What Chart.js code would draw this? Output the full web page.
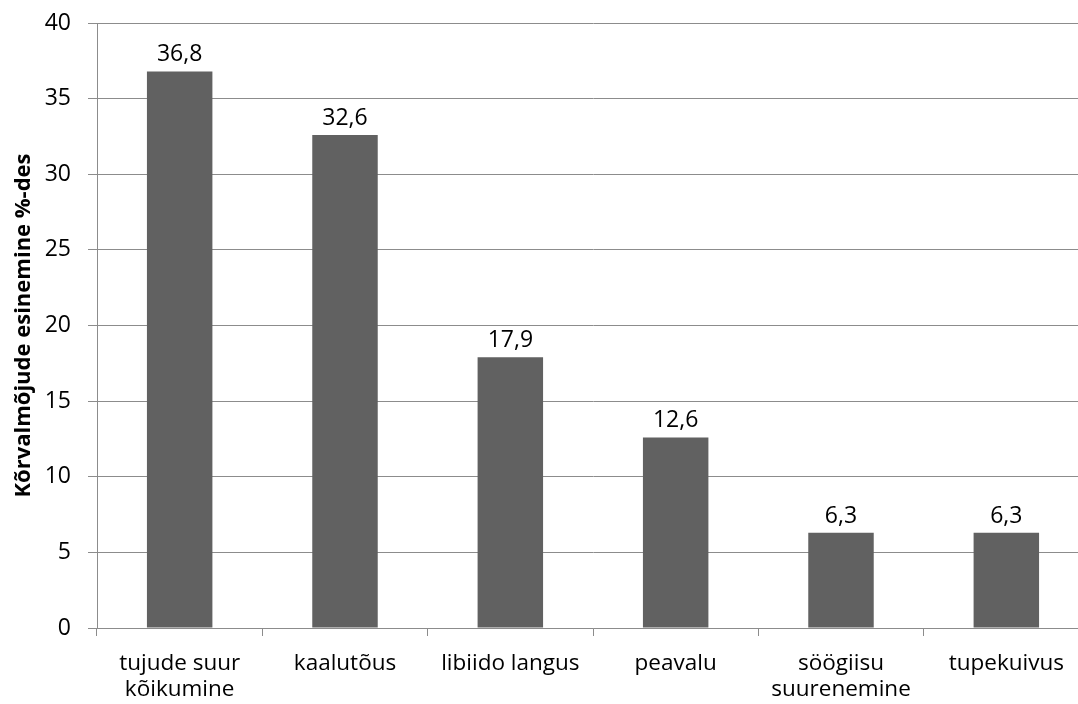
<!DOCTYPE html>
<html>
<head>
<meta charset="utf-8">
<script src="https://cdn.jsdelivr.net/npm/chart.js@4.4.1/dist/chart.umd.min.js"></script>
<style>
  html, body { margin: 0; padding: 0; background: #ffffff; overflow: hidden; }
  #wrap { width: 1078px; height: 704px; overflow: hidden; }
  canvas { display: block; }
</style>
</head>
<body>
<div id="wrap"><canvas id="chart" width="1089" height="704"></canvas></div>
<script>
// Side effects and how often they occurred (% of respondents)
const categories = [
  ['tujude suur', 'kõikumine'],
  'kaalutõus',
  'libiido langus',
  'peavalu',
  ['söögiisu', 'suurenemine'],
  'tupekuivus'
];
const values = [36.8, 32.6, 17.9, 12.6, 6.3, 6.3];
const yTicks = [0, 5, 10, 15, 20, 25, 30, 35, 40];
const yTitle = 'Kõrvalmõjude esinemine %-des';

const FONT = '"Open Sans", Lato, sans-serif';
const GRID = '#8c8c8c';

// value labels above each bar, Estonian decimal comma
const valueLabels = {
  id: 'valueLabels',
  afterDatasetsDraw(chart) {
    const ctx = chart.ctx;
    const meta = chart.getDatasetMeta(0);
    ctx.save();
    ctx.font = '23px ' + FONT;
    ctx.fillStyle = '#000000';
    ctx.textAlign = 'center';
    ctx.textBaseline = 'alphabetic';
    meta.data.forEach((bar, i) => {
      const txt = values[i].toFixed(1).replace('.', ',');
      ctx.fillText(txt, bar.x, bar.y - 10);
    });
    ctx.restore();
  }
};

const whiteBg = {
  id: 'whiteBg',
  beforeDraw(chart) {
    const ctx = chart.ctx;
    ctx.save();
    ctx.fillStyle = '#ffffff';
    ctx.fillRect(0, 0, chart.width, chart.height);
    ctx.restore();
  }
};

new Chart(document.getElementById('chart'), {
  type: 'bar',
  data: {
    labels: categories,
    datasets: [{
      data: values,
      backgroundColor: '#616161',
      borderWidth: 0,
      categoryPercentage: 1,
      barPercentage: 0.396
    }]
  },
  options: {
    responsive: false,
    animation: false,
    layout: { padding: { top: 23, left: 0, right: 0, bottom: 0 } },
    plugins: {
      legend: { display: false },
      tooltip: { enabled: false }
    },
    scales: {
      x: {
        offset: true,
        grid: {
          offset: true,
          drawOnChartArea: false,
          drawTicks: true,
          tickLength: 8,
          color: GRID,
          lineWidth: 1
        },
        border: { display: true, color: GRID, width: 1 },
        ticks: {
          autoSkip: false,
          maxRotation: 0,
          minRotation: 0,
          color: '#000000',
          padding: 15,
          font: { family: FONT, size: 22.5, lineHeight: 1.14 }
        },
        afterFit(scale) {
          scale.height = 76;
          scale.paddingLeft = 0;
          scale.paddingRight = 0;
        }
      },
      y: {
        min: 0,
        max: 40,
        afterBuildTicks(scale) { scale.ticks = yTicks.map(v => ({ value: v })); },
        grid: {
          drawTicks: true,
          tickLength: 9,
          color: GRID,
          lineWidth: 1
        },
        border: { display: true, color: GRID, width: 1 },
        ticks: {
          color: '#000000',
          padding: 17,
          font: { family: FONT, size: 23 }
        },
        title: {
          display: true,
          text: yTitle,
          color: '#000000',
          padding: { top: 11, bottom: 0 },
          font: { family: FONT, size: 22, weight: 'bold' }
        },
        afterFit(scale) {
          scale.width = 97;
          scale.paddingTop = 0;
          scale.paddingBottom = 0;
        }
      }
    }
  },
  plugins: [whiteBg, valueLabels]
});
</script>
</body>
</html>
